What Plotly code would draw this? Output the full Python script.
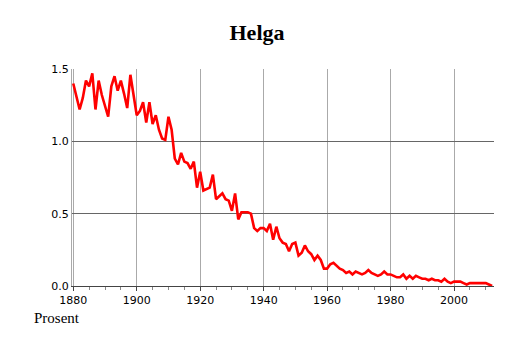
import plotly.graph_objects as go

years = list(range(1880, 2013))
values = [
    1.40, 1.30, 1.22, 1.30, 1.42, 1.38, 1.47, 1.22, 1.42, 1.32,
    1.25, 1.17, 1.38, 1.45, 1.35, 1.42, 1.33, 1.23, 1.46, 1.32,
    1.18, 1.21, 1.27, 1.13, 1.27, 1.12, 1.18, 1.08, 1.02, 1.01,
    1.17, 1.08, 0.88, 0.84, 0.92, 0.86, 0.85, 0.81, 0.86, 0.68,
    0.79, 0.66, 0.67, 0.68, 0.77, 0.60, 0.62, 0.64, 0.60, 0.59,
    0.52, 0.64, 0.46, 0.51, 0.51, 0.51, 0.50, 0.40, 0.38, 0.40,
    0.40, 0.38, 0.43, 0.32, 0.41, 0.33, 0.30, 0.29, 0.24, 0.29,
    0.30, 0.21, 0.23, 0.28, 0.24, 0.22, 0.18, 0.21, 0.18, 0.12,
    0.12, 0.15, 0.16, 0.14, 0.12, 0.11, 0.09, 0.10, 0.08, 0.10,
    0.09, 0.08, 0.09, 0.11, 0.09, 0.08, 0.07, 0.08, 0.10, 0.08,
    0.08, 0.07, 0.06, 0.06, 0.08, 0.05, 0.07, 0.05, 0.07, 0.06,
    0.05, 0.05, 0.04, 0.05, 0.04, 0.04, 0.03, 0.05, 0.03, 0.02,
    0.03, 0.03, 0.03, 0.02, 0.01, 0.02, 0.02, 0.02, 0.02, 0.02,
    0.02, 0.01, 0.00,
]
x_ticks = [1880, 1900, 1920, 1940, 1960, 1980, 2000]
y_ticks = [0.0, 0.5, 1.0, 1.5]
y_labels = ["0.0", "0.5", "1.0", "1.5"]

fig = go.Figure()
fig.add_trace(go.Scatter(x=years, y=values, mode="lines",
                         line=dict(color="#ff0000", width=2.6), showlegend=False))

fig.update_layout(
    width=514, height=343,
    margin=dict(l=72, r=20, t=69, b=57),
    paper_bgcolor="white", plot_bgcolor="white",
    title=dict(text="<b>Helga</b>", x=0.5, xanchor="center", y=0.905, yanchor="middle",
               font=dict(family="Liberation Serif", size=22, color="black")),
    font=dict(family="DejaVu Sans", size=11, color="black"),
    xaxis=dict(range=[1879.6, 2012.6], tickvals=x_ticks, ticktext=[str(t) for t in x_ticks],
               showgrid=True, gridcolor="#aaaaaa", gridwidth=1,
               showline=True, linecolor="#444444", linewidth=1,
               ticks="outside", ticklen=4, tickcolor="#444444",
               minor=dict(dtick=5, tick0=1880, ticks="outside", ticklen=3, tickcolor="#888888", showgrid=False),
               tickfont=dict(family="DejaVu Sans", size=11), zeroline=False),
    yaxis=dict(range=[0, 1.5], tickvals=y_ticks, ticktext=y_labels,
               showgrid=True, gridcolor="#666666", gridwidth=1,
               showline=True, linecolor="#aaaaaa", linewidth=1,
               ticks="", tickfont=dict(family="DejaVu Sans", size=11), zeroline=False),
)
fig.layout.annotations = [dict(text="Prosent", x=-0.095, y=-0.147, xref="paper", yref="paper",
                               xanchor="left", yanchor="middle", showarrow=False,
                               font=dict(family="Liberation Serif", size=15, color="black"))]
fig.write_html("out.html")
